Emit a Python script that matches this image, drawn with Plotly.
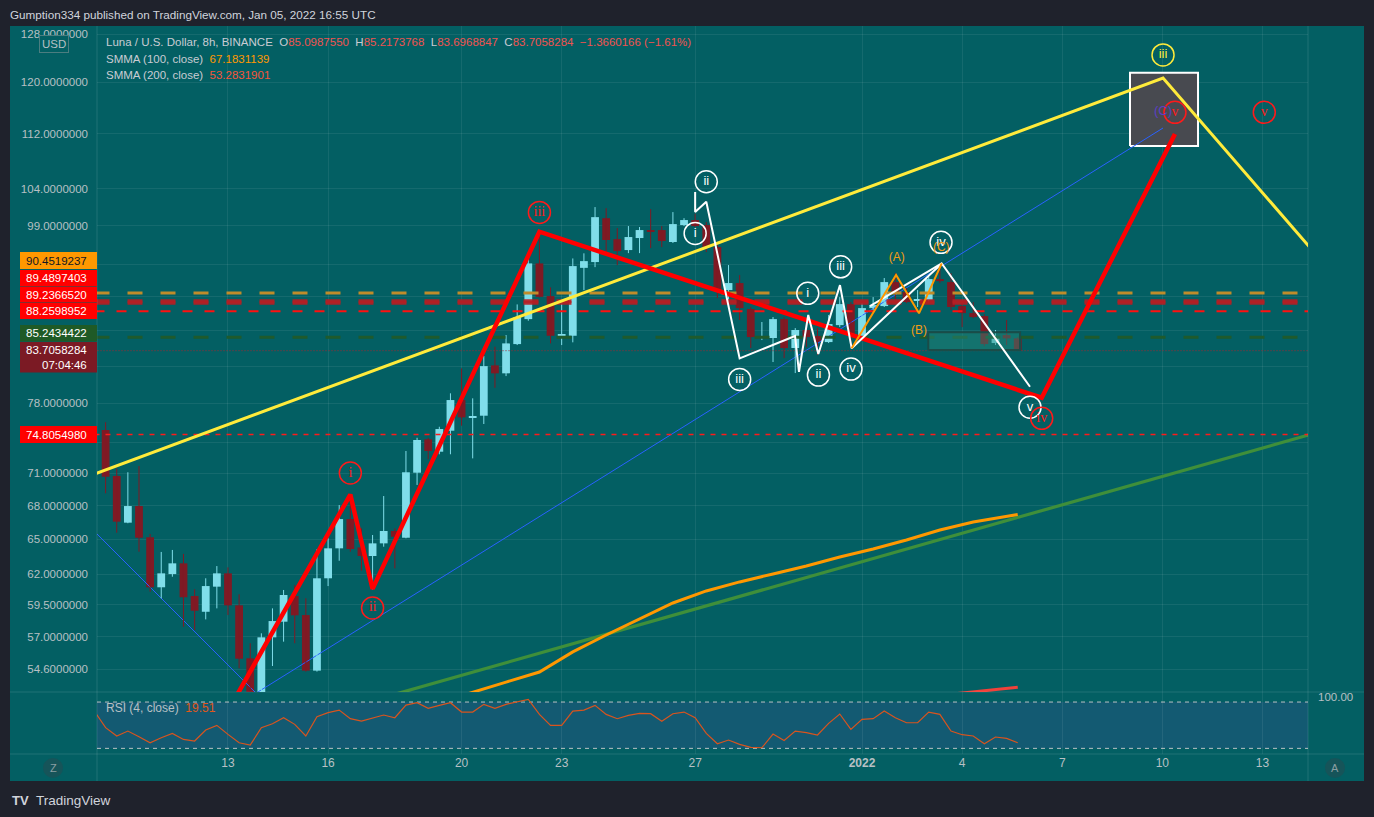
import math
import pandas as pd
import plotly.graph_objects as go

# ---------------- DATA ----------------
first_bar_time = "2021-12-09 08:00"   # 8h candles, LUNA/USD BINANCE
opens = [75.25, 70.75, 66.45, 67.95, 65.16, 60.93, 62.02, 62.92, 60.22, 58.96,
         60.98, 62.08, 59.47, 55.39, 52.70, 56.97, 58.18, 60.22, 58.70, 54.48,
         61.67, 64.20, 66.77, 64.28, 63.54, 64.63, 65.71, 65.12, 71.06, 74.32,
         73.09, 75.18, 78.34, 76.54, 76.71, 82.07, 81.20, 84.45, 87.33, 94.11,
         90.07, 85.40, 85.40, 93.55, 94.28, 100.00, 97.23, 95.81, 97.37, 98.42,
         98.42, 96.85, 99.08, 99.75, 99.08, 96.20, 90.80, 91.66, 88.52, 85.20,
         85.14, 87.33, 84.01, 86.06, 85.37, 84.68, 86.63, 89.11, 85.37, 88.63,
         88.87, 91.78, 90.56, 89.53, 89.59, 92.15, 91.78, 88.87, 88.04, 87.69,
         84.57, 85.48, 85.10]
highs = [76.04, 71.47, 71.10, 71.70, 65.45, 63.89, 64.06, 63.72, 60.77, 61.67,
         62.69, 62.58, 60.36, 56.52, 57.28, 59.23, 60.71, 61.12, 60.04, 64.12,
         65.07, 68.04, 68.96, 65.95, 65.36, 68.87, 65.95, 73.16, 74.47, 74.47,
         75.58, 79.05, 81.74, 78.52, 83.11, 84.15, 85.48, 89.07, 95.30, 98.06,
         91.13, 89.19, 94.74, 95.39, 101.50, 101.36, 98.68, 98.95, 98.82, 101.22,
         98.95, 100.82, 100.00, 100.60, 99.48, 96.46, 93.90, 92.65, 88.76, 86.99,
         87.57, 87.57, 86.28, 87.33, 86.28, 87.81, 89.95, 89.35, 89.23, 89.95,
         92.28, 92.90, 91.05, 90.80, 92.40, 93.64, 92.90, 89.23, 89.35, 87.90,
         86.06, 87.22, 85.22]
lows = [69.12, 65.56, 66.40, 63.91, 60.57, 60.03, 61.80, 57.79, 57.53, 58.36,
        59.23, 58.70, 54.65, 51.90, 52.30, 54.82, 56.64, 56.52, 54.41, 54.41,
        61.03, 63.14, 63.91, 62.30, 60.76, 64.34, 62.50, 65.07, 69.90, 72.35,
        72.84, 72.84, 75.69, 72.44, 75.86, 79.64, 80.90, 84.34, 87.14, 89.91,
        84.53, 84.34, 84.65, 90.80, 93.64, 95.55, 93.90, 95.42, 95.42, 96.07,
        96.20, 96.72, 98.95, 98.82, 95.55, 89.83, 89.23, 87.22, 84.01, 84.91,
        82.44, 82.88, 81.23, 84.11, 83.22, 84.57, 86.40, 84.01, 85.14, 88.40,
        88.76, 89.59, 89.23, 88.76, 89.35, 91.66, 88.40, 86.40, 87.45, 84.23,
        84.34, 84.34, 83.70]
closes = [70.68, 66.54, 67.95, 65.12, 60.93, 62.08, 62.92, 60.12, 59.04, 61.03,
          62.08, 59.47, 55.36, 52.70, 56.97, 58.23, 60.30, 58.68, 54.48, 61.67,
          64.20, 66.77, 64.14, 63.54, 64.63, 65.71, 65.21, 71.10, 74.25, 73.16,
          75.35, 78.34, 76.54, 76.68, 81.99, 81.20, 84.53, 87.53, 94.11, 89.98,
          85.40, 85.48, 93.77, 94.40, 100.14, 97.11, 95.68, 97.50, 98.42, 98.29,
          96.98, 99.21, 99.75, 98.95, 96.20, 90.80, 91.66, 88.63, 85.25, 85.25,
          87.33, 84.00, 86.06, 85.25, 84.68, 86.75, 89.11, 85.37, 88.63, 88.99,
          91.78, 90.56, 89.35, 89.59, 92.15, 91.90, 88.76, 88.04, 87.57, 84.45,
          85.14, 85.10, 83.71]

rsi_first_time = "2021-12-09 00:00"
rsi_values = [68.0, 46.8, 36.0, 42.4, 35.1, 27.3, 33.8, 39.4, 31.6, 29.5, 43.7,
              49.8, 38.1, 27.3, 24.3, 46.8, 51.9, 59.7, 51.1, 36.0, 61.0,
              66.2, 69.6, 58.4, 55.4, 59.3, 63.2, 59.7, 76.1, 79.1, 71.8,
              75.7, 79.1, 67.0, 67.0, 77.0, 71.8, 77.0, 80.0, 83.5, 64.0,
              49.8, 49.8, 68.3, 69.6, 75.7, 64.0, 58.4, 62.7, 65.3, 64.9,
              55.0, 64.9, 67.0, 59.7, 39.4, 26.0, 30.8, 25.2, 21.3, 20.8,
              38.5, 30.3, 42.4, 40.3, 37.3, 52.4, 64.5, 44.6, 57.5, 58.4,
              68.3, 59.7, 53.2, 53.2, 67.0, 64.0, 42.4, 37.7, 36.0, 26.0,
              34.7, 32.9, 27.3]
rsi_upper = 80
rsi_lower = 20

smma100_times = ["2021-12-19 08:00", "2021-12-20 08:00", "2021-12-21 08:00", "2021-12-22 08:00",
                 "2021-12-23 08:00", "2021-12-24 08:00", "2021-12-25 08:00", "2021-12-26 08:00",
                 "2021-12-27 08:00", "2021-12-28 08:00", "2021-12-29 08:00", "2021-12-30 08:00",
                 "2021-12-31 08:00", "2022-01-01 08:00", "2022-01-02 08:00", "2022-01-03 08:00",
                 "2022-01-04 08:00", "2022-01-05 08:00", "2022-01-05 16:00"]
smma100_values = [52.20, 52.94, 53.65, 54.38, 55.87, 57.15, 58.39, 59.66, 60.63, 61.37,
                  62.03, 62.69, 63.46, 64.14, 64.92, 65.80, 66.51, 67.05, 67.18]
smma200_times = ["2022-01-03 00:00", "2022-01-03 16:00", "2022-01-04 08:00",
                 "2022-01-05 00:00", "2022-01-05 16:00"]
smma200_values = [52.62, 52.78, 52.93, 53.10, 53.28]

level_prices = [90.4519237, 89.4897403, 89.2366520, 88.2598952, 85.2434422, 83.7058284, 74.8054980]
level_span = ["2021-12-09 00:00", "2022-01-16 00:00"]

yellow_times = ["2021-12-09 00:00", "2022-01-10 00:30", "2022-01-16 01:45"]
yellow_prices = [70.93, 120.69, 88.30]
red_wave_times = ["2021-12-13 04:00", "2021-12-16 16:00", "2021-12-17 08:00",
                  "2021-12-22 08:00", "2022-01-06 09:15", "2022-01-10 09:05"]
red_wave_prices = [52.30, 69.00, 60.80, 98.20, 78.58, 111.96]
blue_down_times = ["2021-12-09 00:00", "2021-12-14 05:00"]
blue_down_prices = [65.67, 52.00]
blue_up_times = ["2021-12-13 16:00", "2022-01-10 00:30"]
blue_up_prices = [52.60, 112.87]
green_times = ["2021-12-18 00:00", "2022-01-16 00:00"]
green_prices = [52.78, 76.31]
white_times = ["2021-12-27 00:00", "2021-12-27 00:00", "2021-12-27 08:00", "2021-12-28 08:00",
               "2021-12-29 23:50", "2021-12-30 02:40", "2021-12-30 09:20", "2021-12-30 16:35",
               "2021-12-31 08:10", "2021-12-31 16:35", "2022-01-03 09:20", "2022-01-06 00:50"]
white_prices = [103.56, 100.82, 102.23, 82.85, 85.37, 81.37, 87.81, 83.33, 91.41, 83.97, 94.11, 79.75]
white2_times = ["2022-01-01 05:45", "2022-01-03 09:20"]
white2_prices = [88.87, 94.11]
abc_times = ["2021-12-31 16:35", "2022-01-02 00:30", "2022-01-02 17:00", "2022-01-03 09:20"]
abc_prices = [83.97, 92.65, 88.01, 94.11]

red_label_times = ["2021-12-16 16:00", "2021-12-17 08:00", "2021-12-22 08:00",
                   "2022-01-06 09:15", "2022-01-10 09:05", "2022-01-13 01:20"]
red_label_prices = [71.03, 59.26, 100.78, 76.44, 115.27, 115.27]
red_label_texts = ["i", "ii", "iii", "iv", "v", "v"]
white_label_times = ["2021-12-27 08:00", "2021-12-27 00:00", "2021-12-28 08:00", "2021-12-30 09:00",
                     "2021-12-30 16:40", "2021-12-31 08:40", "2021-12-31 16:05", "2022-01-03 08:50",
                     "2022-01-06 00:50"]
white_label_prices = [105.02, 97.98, 80.54, 90.40, 81.01, 93.68, 81.66, 96.81, 77.58]
white_label_texts = ["ii", "i", "iii", "i", "ii", "iii", "iv", "iv", "v"]
yellow_label_times = ["2022-01-10 00:30"]
yellow_label_prices = [124.5]
yellow_label_texts = ["iii"]
abc_label_times = ["2022-01-02 01:00", "2022-01-02 17:00", "2022-01-03 09:00"]
abc_label_prices = [94.74, 85.98, 96.11]
abc_label_texts = ["(A)", "(B)", "(C)"]
purple_label_times = ["2022-01-10 00:30"]
purple_label_prices = [115.3]
purple_label_texts = ["(C)"]

gray_box_times = ["2022-01-09 00:45", "2022-01-11 01:40"]
gray_box_prices = [110.17, 121.57]
teal_box_times = ["2022-01-02 23:40", "2022-01-05 17:40"]
teal_box_prices = [83.78, 85.79]

y_tick_values = [54.6, 57, 59.5, 62, 65, 68, 71, 74, 78, 82, 86, 90, 94, 99, 104, 112, 120, 128]
y_tick_hidden = [74, 82, 86, 90, 94]
x_tick_times = ["2021-12-13", "2021-12-16", "2021-12-20", "2021-12-23", "2021-12-27",
                "2022-01-01", "2022-01-04", "2022-01-07", "2022-01-10", "2022-01-13"]
x_tick_labels = ["13", "16", "20", "23", "27", "2022", "4", "7", "10", "13"]

x_view = ["2021-12-09 01:48", "2022-01-14 08:46"]
y_view = [52.94, 129.43]
rsi_view = [12.7, 93.0]

header_text = "Gumption334 published on TradingView.com, Jan 05, 2022 16:55 UTC"
symbol_text = "Luna / U.S. Dollar, 8h, BINANCE"
ohlc_texts = ["85.0987550", "85.2173768", "83.6968847", "83.7058284"]
change_text = "\u22121.3660166 (\u22121.61%)"
smma100_label = ["SMMA (100, close)", "67.1831139"]
smma200_label = ["SMMA (200, close)", "53.2831901"]
rsi_label = ["RSI (4, close)", "19.51"]
countdown_text = "07:04:46"

# ---------------- STYLE / LAYOUT ----------------
W, H = 1374, 817
PL, PR, PT, PB = 97, 1308, 26, 754
MAIN_BOTTOM = 692
TEAL = "#035f63"
DARK = "#1f222c"
GRID = "rgba(255,255,255,0.075)"
SEP = "rgba(255,255,255,0.12)"
AXTXT = "#b7c0c4"
FONT = "Liberation Sans, Arial, sans-serif"
CYAN = "#80deea"
MAROON = "#7f1a24"
BODY_MS = 0.70 * 8 * 3600 * 1000


def fx(px):
    return (px - PL) / (PR - PL)


def fy(py):
    return (PB - py) / (PB - PT)


bar_times = pd.date_range(first_bar_time, periods=len(opens), freq="8h")
rsi_times = pd.date_range(rsi_first_time, periods=len(rsi_values), freq="8h")

fig = go.Figure()


def line(xs, ys, color, width, dash="solid", yaxis="y", opacity=1.0):
    fig.add_trace(go.Scatter(x=xs, y=ys, mode="lines", yaxis=yaxis, opacity=opacity,
                             line=dict(color=color, width=width, dash=dash),
                             hoverinfo="skip", showlegend=False))


def box(xs, ys, fill, border, bw):
    fig.add_trace(go.Scatter(x=[xs[0], xs[1], xs[1], xs[0], xs[0]],
                             y=[ys[0], ys[0], ys[1], ys[1], ys[0]],
                             mode="lines", fill="toself", fillcolor=fill,
                             line=dict(color=border, width=bw),
                             hoverinfo="skip", showlegend=False))


def circled(xs, ys, texts, color, family=FONT, size=13, lw=1.5):
    fig.add_trace(go.Scatter(x=xs, y=ys, mode="markers+text", text=texts,
                             textposition="middle center",
                             textfont=dict(color=color, size=size, family=family),
                             marker=dict(symbol="circle-open", size=22, color=color,
                                         line=dict(color=color, width=lw)),
                             hoverinfo="skip", showlegend=False))


def plain_text(xs, ys, texts, color, size=12):
    fig.add_trace(go.Scatter(x=xs, y=ys, mode="text", text=texts,
                             textposition="middle center",
                             textfont=dict(color=color, size=size, family=FONT),
                             hoverinfo="skip", showlegend=False))


# gray target box (under the lines)
box(gray_box_times, gray_box_prices, "rgba(74,73,80,0.97)", "#ffffff", 2)

# moving averages / trend lines under candles
line(green_times, green_prices, "#3f8f3a", 3.2)
line(smma100_times, smma100_values, "#ff9800", 3)
line(smma200_times, smma200_values, "#f2413a", 3)
line(blue_down_times, blue_down_prices, "#2962ff", 1)
line(blue_up_times, blue_up_prices, "#2962ff", 1)

# candles: wicks then bodies
for up, col in ((True, CYAN), (False, MAROON)):
    wx, wy, bx, bb, bh = [], [], [], [], []
    for t, o, h, l, c in zip(bar_times, opens, highs, lows, closes):
        if (c >= o) != up:
            continue
        wx += [t, t, None]
        wy += [l, h, None]
        bx.append(t)
        bb.append(min(o, c))
        bh.append(max(abs(c - o), 0.09))
    fig.add_trace(go.Scatter(x=wx, y=wy, mode="lines", line=dict(color=col, width=1),
                             hoverinfo="skip", showlegend=False, connectgaps=False))
    fig.add_trace(go.Bar(x=bx, y=bh, base=bb, width=BODY_MS, marker=dict(color=col, line=dict(width=0)),
                         hoverinfo="skip", showlegend=False))

# horizontal levels
level_styles = [("#c08c2a", 3, "15px,18px", 1.0), ("#b81e23", 3.5, "15px,18px", 0.9),
                ("#b81e23", 3.5, "15px,18px", 0.9), ("#ff1010", 2, "10px,12px", 1.0),
                ("#1f5a2c", 3, "15px,18px", 1.0), ("#a5262f", 1, "1px,2px", 1.0),
                ("#ff1a1a", 1.5, "5px,6px", 1.0)]
for p, (c, w, d, o) in zip(level_prices, level_styles):
    line(level_span, [p, p], c, w, d, opacity=o)

# teal small box
box(teal_box_times, teal_box_prices, "rgba(40,140,125,0.45)", "#1b4c48", 2)

# wave drawings
line(yellow_times, yellow_prices, "#ffeb3b", 3)
line(red_wave_times, red_wave_prices, "#ff0000", 4.5)
line(white_times, white_prices, "#ffffff", 2)
line(white2_times, white2_prices, "#ffffff", 2)
line(abc_times, abc_prices, "#ff9800", 2)

circled(white_label_times, white_label_prices, white_label_texts, "#ffffff")
circled(red_label_times, red_label_prices, red_label_texts, "#ff1a1a",
        family="Liberation Serif, Times New Roman, serif", size=14)
circled(yellow_label_times, yellow_label_prices, yellow_label_texts, "#ffeb3b")
plain_text(abc_label_times, abc_label_prices, abc_label_texts, "#f39c12", 12)
plain_text(purple_label_times, purple_label_prices, purple_label_texts, "#5c3fc4", 13)

# RSI
line(rsi_times, rsi_values, "#d9541e", 1.2, yaxis="y2")

shapes = [
    dict(type="rect", xref="paper", yref="paper", x0=fx(10), x1=fx(1364), y0=fy(781), y1=fy(26),
         fillcolor=TEAL, line=dict(width=0), layer="below"),
    dict(type="rect", xref="paper", yref="y2", x0=0, x1=1, y0=rsi_lower, y1=rsi_upper,
         fillcolor="#135a72", line=dict(width=0), layer="below"),
    dict(type="line", xref="paper", yref="y2", x0=0, x1=1, y0=rsi_upper, y1=rsi_upper,
         line=dict(color="#b9c0c4", width=1, dash="4px,4px"), layer="below"),
    dict(type="line", xref="paper", yref="y2", x0=0, x1=1, y0=rsi_lower, y1=rsi_lower,
         line=dict(color="#b9c0c4", width=1, dash="4px,4px"), layer="below"),
]
for yy in (MAIN_BOTTOM, PB):
    shapes.append(dict(type="line", xref="paper", yref="paper", x0=fx(10), x1=fx(1364),
                       y0=fy(yy), y1=fy(yy), line=dict(color=SEP, width=1), layer="above"))
for xx in (PL, PR):
    shapes.append(dict(type="line", xref="paper", yref="paper", x0=fx(xx), x1=fx(xx),
                       y0=fy(26), y1=fy(781), line=dict(color=SEP, width=1), layer="above"))

annotations = []

# price labels on the left scale
label_boxes = [(252, 269, "#ff9800", "#131722"), (270, 286, "#ff0000", "#ffffff"),
               (286.5, 302.5, "#ff0000", "#ffffff"), (303, 319, "#ff0000", "#ffffff"),
               (325, 341.5, "#1f5a26", "#ffffff"), (342, 372.5, "#7b1a24", "#ffffff"),
               (426, 443, "#ff0000", "#ffffff")]
for p, (y0, y1, bg, fg) in zip(level_prices, label_boxes):
    shapes.append(dict(type="rect", xref="paper", yref="paper", x0=fx(20), x1=fx(97),
                       y0=fy(y1), y1=fy(y0), fillcolor=bg, line=dict(width=0), layer="above"))
    txt = f"{p:.7f}"
    if bg == "#7b1a24":
        txt = txt + "<br>" + countdown_text
    yc = (y0 + y1) / 2
    annotations.append(dict(xref="paper", yref="paper", x=fx(89), y=fy(yc), text=txt,
                            xanchor="right", yanchor="middle", align="right", showarrow=False,
                            font=dict(color=fg, size=11.5, family=FONT)))

# Z / A buttons
for cx, letter in ((53, "Z"), (1335, "A")):
    shapes.append(dict(type="circle", xref="paper", yref="paper", x0=fx(cx - 10), x1=fx(cx + 10),
                       y0=fy(778), y1=fy(758), fillcolor="#165459", line=dict(width=0),
                       layer="above"))
    annotations.append(dict(xref="paper", yref="paper", x=fx(cx), y=fy(768), text=letter,
                            xanchor="center", yanchor="middle", showarrow=False,
                            font=dict(color="#8a9ea2", size=11, family=FONT)))

RED = "#ef5350"
GRAYT = "#c9ccd3"
sp = "\u00a0\u00a0"
legend1 = (f"<span style='color:{GRAYT}'>{symbol_text}</span>{sp}"
           f"O<span style='color:{RED}'>{ohlc_texts[0]}</span>{sp}"
           f"H<span style='color:{RED}'>{ohlc_texts[1]}</span>{sp}"
           f"L<span style='color:{RED}'>{ohlc_texts[2]}</span>{sp}"
           f"C<span style='color:{RED}'>{ohlc_texts[3]}</span>{sp}"
           f"<span style='color:{RED}'>{change_text}</span>")
legend2 = f"{smma100_label[0]}{sp}<span style='color:#ff9800'>{smma100_label[1]}</span>"
legend3 = f"{smma200_label[0]}{sp}<span style='color:#f7553a'>{smma200_label[1]}</span>"
legend4 = f"{rsi_label[0]}{sp}<span style='color:#e0581a'>{rsi_label[1]}</span>"

for txt, px_, py_, col, size in [
        (header_text, 8, 14, "#d1d4dc", 11.7),
        (legend1, 104, 42, GRAYT, 11.5),
        (legend2, 104, 59, GRAYT, 11.5),
        (legend3, 104, 75, GRAYT, 11.5),
        (legend4, 104, 708, "#b7c0c4", 12),
        ("TradingView", 34, 800, "#d1d4dc", 13.5)]:
    annotations.append(dict(xref="paper", yref="paper", x=fx(px_), y=fy(py_), text=txt,
                            xanchor="left", yanchor="middle", showarrow=False,
                            font=dict(color=col, size=size, family=FONT)))

annotations.append(dict(xref="paper", yref="paper", x=fx(20), y=fy(800), text="<b>TV</b>",
                        xanchor="center", yanchor="middle", showarrow=False,
                        font=dict(color="#d1d4dc", size=13, family=FONT)))
annotations.append(dict(xref="paper", yref="paper", x=fx(54), y=fy(43.5), text="USD",
                        xanchor="center", yanchor="middle",
                        showarrow=False, bgcolor=TEAL, bordercolor="#4c7d80", borderwidth=1,
                        borderpad=2, font=dict(color="#b7c0c4", size=11.5, family=FONT)))
annotations.append(dict(xref="paper", yref="paper", x=fx(1335), y=fy(697), text="100.00",
                        xanchor="center", yanchor="middle",
                        showarrow=False, font=dict(color="#b7c0c4", size=11.5, family=FONT)))

ytext = ["" if v in y_tick_hidden else f"{v:.7f}" for v in y_tick_values]
xtext = [f"<b>{t}</b>" if t == "2022" else t for t in x_tick_labels]

split = (PB - MAIN_BOTTOM) / (PB - PT)
fig.update_layout(
    width=W, height=H,
    margin=dict(l=PL, r=W - PR, t=PT, b=H - PB, pad=0),
    paper_bgcolor=DARK, plot_bgcolor=TEAL,
    showlegend=False, hovermode=False, barmode="overlay",
    font=dict(family=FONT, color=AXTXT),
    xaxis=dict(type="date", range=x_view, anchor="y2", domain=[0, 1],
               tickvals=x_tick_times, ticktext=xtext, showgrid=True, gridcolor=GRID,
               gridwidth=1, zeroline=False, showline=False, ticks="",
               tickfont=dict(size=12, color=AXTXT), rangeslider=dict(visible=False),
               fixedrange=True),
    yaxis=dict(type="log", range=[math.log10(y_view[0]), math.log10(y_view[1])],
               domain=[split, 1], side="left", tickvals=y_tick_values, ticktext=ytext,
               showgrid=True, gridcolor=GRID, zeroline=False, showline=False, ticks="",
               ticklabelstandoff=8, tickfont=dict(size=11.5, color=AXTXT), fixedrange=True),
    yaxis2=dict(range=rsi_view, domain=[0, split], showticklabels=False, showgrid=False,
                zeroline=False, showline=False, fixedrange=True),
    shapes=shapes, annotations=annotations,
)

fig.write_html("out.html", config={"displayModeBar": False},
               post_script="document.body.style.margin='0';document.body.style.overflow='hidden';"
                           "document.body.style.background='#1f222c';")
